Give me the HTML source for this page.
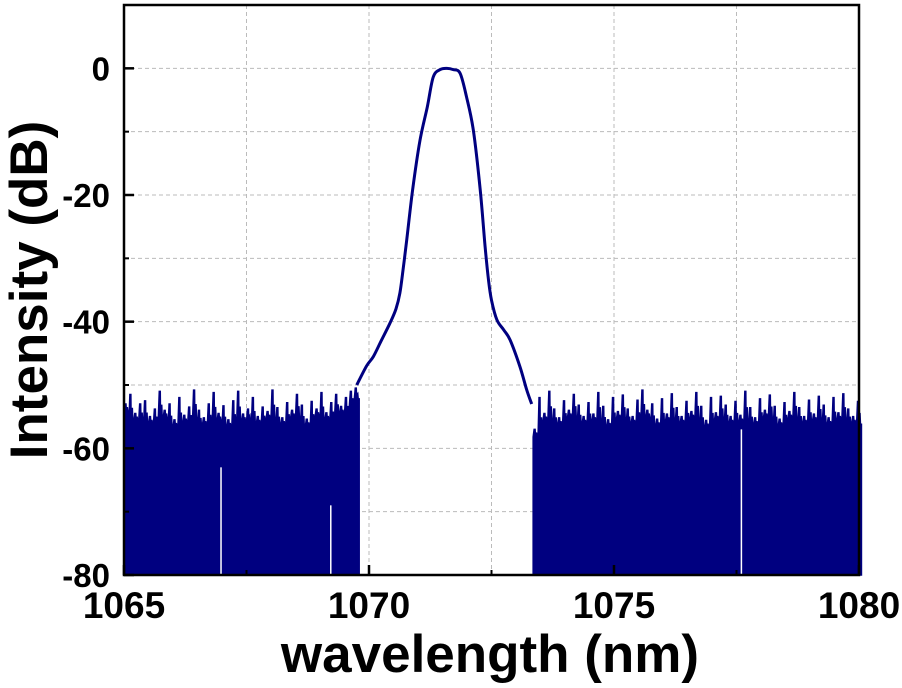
<!DOCTYPE html>
<html><head><meta charset="utf-8"><style>
html,body{margin:0;padding:0;background:#fff;}
svg{display:block;font-family:"Liberation Sans",Arial,sans-serif;font-weight:bold;}
</style></head><body>
<svg id="chart" width="902" height="688" viewBox="0 0 902 688"></svg>
<script>
const xTicks=[1065,1070,1075,1080];
const yTicks=[0,-20,-40,-60,-80];
const yMinor=[-10,-30,-50,-70];
const xMinor=[1067.5,1072.5,1077.5];
const xGrid=[1067.5,1070,1072.5,1075,1077.5];
const yGrid=[0,-10,-20,-30,-40,-50,-60,-70];
const peakX=[1069.75,1069.95,1070.09,1070.25,1070.43,1070.55,1070.63,1070.7,1070.77,1070.89,1071.04,1071.19,1071.31,1071.45,1071.59,1071.72,1071.86,1071.99,1072.13,1072.27,1072.37,1072.44,1072.5,1072.61,1072.75,1072.88,1073.08,1073.22,1073.32];
const peakY=[-50,-47,-45.5,-43,-40.2,-38,-35.5,-31.5,-27.1,-19.2,-11.4,-6.1,-1.4,-0.2,0,-0.2,-0.8,-4.5,-9.8,-19.2,-28.2,-33.5,-36.6,-39.7,-41.3,-42.9,-47.1,-50.8,-53];
const noiseLeftStart=1065, noiseRightStart=1073.35, noiseStep=0.1;
const noiseLeft=[-53,-51.5,-54.5,-53,-52.5,-55,-53.8,-51,-54,-53,-55.5,-52,-54.8,-53.5,-50.8,-54,-55.2,-53,-51.2,-54.5,-53.3,-55.5,-52.5,-51,-54.6,-53.8,-52,-55,-53.5,-54.2,-50.8,-53.6,-55.2,-52.8,-54,-51.5,-53.2,-55.4,-52.6,-53.8,-51.2,-54.4,-52.8,-51.5,-53.4,-52,-51,-50.5];
const noiseRight=[-57,-52,-54.5,-51,-53.8,-55.2,-52.5,-54,-51.5,-53.2,-55,-52.8,-54.6,-51.2,-53.4,-55.5,-52,-54.2,-51.6,-53.8,-55,-52.4,-50.8,-54,-53,-55.4,-52.2,-54.6,-51.4,-53.6,-55,-52.6,-54.2,-51.2,-53.4,-55.6,-52,-54.4,-51.8,-53.2,-55,-52.6,-54.8,-51,-53.6,-55.2,-52.2,-54,-51.6,-53.4,-55.4,-52.8,-54.2,-51.2,-53.6,-55,-52.4,-54.6,-51.8,-53.2,-55.2,-52,-54.4,-51.4,-53.8,-55,-52.6];
const gapX=[1066.98,1069.22,1077.6];
const gapTop=[-63,-69,-57];

const L=124,R=859,T=5,B=575;
const xMin=1065,xMax=1080,yMin=-80,yMax=10;
const sx=v=>L+(v-xMin)/(xMax-xMin)*(R-L);
const sy=v=>B-(v-yMin)/(yMax-yMin)*(B-T);
const svg=document.getElementById('chart');
const NS='http://www.w3.org/2000/svg';
function mk(tag,attrs,parent){const e=document.createElementNS(NS,tag);for(const k in attrs)e.setAttribute(k,attrs[k]);(parent||svg).appendChild(e);return e;}

xGrid.forEach(v=>{const l=mk('line',{x1:sx(v),x2:sx(v),y1:T,y2:B,stroke:'#bbb','stroke-width':1,'stroke-dasharray':'4,3'});

});
yGrid.forEach(v=>{const l=mk('line',{x1:L,x2:R,y1:sy(v),y2:sy(v),stroke:'#bbb','stroke-width':1,'stroke-dasharray':'4,3'});

});

const col='#000080';
function noisePath(arr,start){
  let d=`M${sx(start)},${B}`;
  arr.forEach((v,i)=>{
    const x0=sx(start+i*noiseStep),x1=sx(start+(i+1)*noiseStep);
    const prev=i>0?arr[i-1]:v,next=i<arr.length-1?arr[i+1]:v;
    const body=Math.min(v,prev,next)-1.2;
    const w=x1-x0;
    d+=` L${x0},${sy(body)} L${x0+w*0.2},${sy(v)} L${x0+w*0.4},${sy(v)} L${x0+w*0.45},${sy(body+0.6)} L${x0+w*0.7},${sy((v+body)/2)} L${x0+w*0.8},${sy(body)} L${x1},${sy(body)}`;
  });
  d+=` L${sx(start+arr.length*noiseStep)},${B} Z`;return d;}
const nl=mk('path',{d:noisePath(noiseLeft,noiseLeftStart),fill:col,stroke:col,'stroke-width':1.5});


const rightLen=Math.min(noiseRight.length,Math.round((xMax-noiseRightStart)/noiseStep));
const nr=mk('path',{d:noisePath(noiseRight.slice(0,rightLen),noiseRightStart),fill:col,stroke:col,'stroke-width':1.5});


gapX.forEach((v,i)=>{const g=mk('line',{x1:sx(v),x2:sx(v),y1:B,y2:sy(gapTop[i]),stroke:'#fff','stroke-width':1.5});

});

// smooth peak (Catmull-Rom)
const P=peakX.map((v,i)=>[sx(v),sy(peakY[i])]);
let pd=`M${P[0][0]},${P[0][1]}`;
for(let i=0;i<P.length-1;i++){
  const p0=P[Math.max(0,i-1)],p1=P[i],p2=P[i+1],p3=P[Math.min(P.length-1,i+2)];
  const c1=[p1[0]+(p2[0]-p0[0])/6,p1[1]+(p2[1]-p0[1])/6];
  const c2=[p2[0]-(p3[0]-p1[0])/6,p2[1]-(p3[1]-p1[1])/6];
  pd+=` C${c1[0]},${c1[1]} ${c2[0]},${c2[1]} ${p2[0]},${p2[1]}`;
}
const pk=mk('path',{d:pd,fill:'none',stroke:col,'stroke-width':3,'stroke-linejoin':'round'});



const fr=mk('rect',{x:L,y:T,width:R-L,height:B-T,fill:'none',stroke:'#000','stroke-width':2.5});


xTicks.forEach(v=>{const t=mk('line',{x1:sx(v),x2:sx(v),y1:B,y2:B-10,stroke:'#000','stroke-width':2.5});


const tx=mk('text',{x:sx(v),y:618,'text-anchor':'middle','font-size':37,fill:'#000'});tx.textContent=v;

});
xMinor.forEach(v=>{const t=mk('line',{x1:sx(v),x2:sx(v),y1:B,y2:B-5,stroke:'#000','stroke-width':2});

});
yTicks.forEach(v=>{const t=mk('line',{x1:L,x2:L+10,y1:sy(v),y2:sy(v),stroke:'#000','stroke-width':2.5});


const tx=mk('text',{x:110,y:sy(v)+12,'text-anchor':'end','font-size':33,fill:'#000'});tx.textContent=v;

});
yMinor.forEach(v=>{const t=mk('line',{x1:L,x2:L+5,y1:sy(v),y2:sy(v),stroke:'#000','stroke-width':2});

});
const xt=mk('text',{x:490,y:672,'text-anchor':'middle','font-size':53,fill:'#000'});xt.textContent='wavelength (nm)';


const yt=mk('text',{x:0,y:0,'text-anchor':'middle','font-size':53,fill:'#000',transform:'translate(47,290) rotate(-90)'});yt.textContent='Intensity (dB)';


</script>
</body></html>
